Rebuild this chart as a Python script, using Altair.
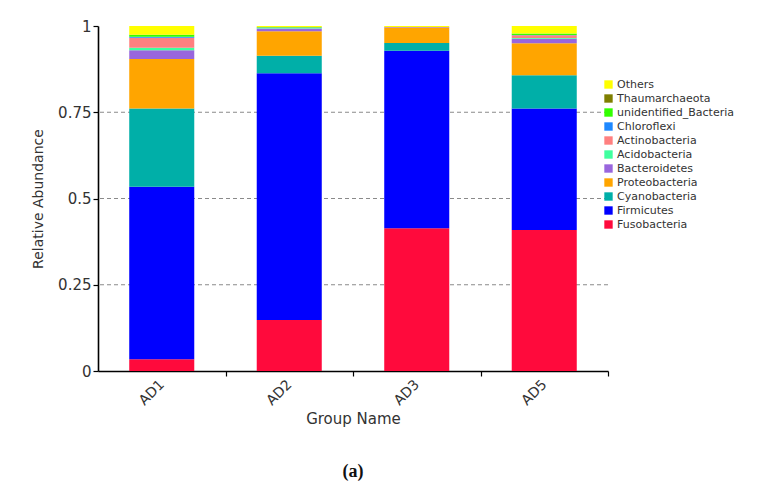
import altair as alt
import pandas as pd

groups = ["AD1", "AD2", "AD3", "AD5"]
# stacking order, bottom to top
taxa = ["Fusobacteria", "Firmicutes", "Cyanobacteria", "Proteobacteria",
        "Bacteroidetes", "Acidobacteria", "Actinobacteria", "Chloroflexi",
        "unidentified_Bacteria", "Thaumarchaeota", "Others"]
taxa_colors = ["#FF0A3C", "#0000FF", "#00AFA8", "#FFA500",
               "#9966DD", "#40FF9F", "#FF8080", "#1E88FF",
               "#33FF00", "#7F7F00", "#FFFF00"]

ad1 = [0.034, 0.500, 0.227, 0.143, 0.026, 0.007, 0.029, 0.003, 0.005, 0.001, 0.025]
ad2 = [0.148, 0.715, 0.051, 0.071, 0.008, 0.001, 0.001, 0.001, 0.001, 0.000, 0.003]
ad3 = [0.414, 0.514, 0.023, 0.045, 0.001, 0.000, 0.000, 0.000, 0.000, 0.000, 0.003]
ad5 = [0.409, 0.352, 0.096, 0.093, 0.013, 0.002, 0.008, 0.001, 0.004, 0.000, 0.022]

y_ticks = [0, 0.25, 0.5, 0.75, 1]
grid_values = [0.25, 0.5, 0.75]

rows = []
for g, vals in zip(groups, [ad1, ad2, ad3, ad5]):
    for i, (t, v) in enumerate(zip(taxa, vals)):
        rows.append({"group": g, "taxon": t, "value": v, "rank": i})
df = pd.DataFrame(rows)

legend_order = taxa[::-1]
legend_colors = taxa_colors[::-1]

FONT = "DejaVu Sans"
HALF_STEP = 510 / 4 / 2

y_axis = alt.Axis(title="Relative Abundance", values=y_ticks, format=".2~f",
                  grid=False, labelFontSize=15, titleFontSize=14,
                  titlePadding=12, labelPadding=2)
y_scale = alt.Scale(domain=[0, 1], nice=False)

grid = alt.Chart(pd.DataFrame({"y": grid_values})).mark_rule(
    strokeDash=[4, 3], color="#8a8a8a", strokeWidth=1
).encode(
    y=alt.Y("y:Q", scale=y_scale, axis=y_axis)
)

bars = alt.Chart(df).mark_bar().encode(
    x=alt.X("group:N", sort=groups,
            scale=alt.Scale(paddingInner=0.49, paddingOuter=0.245),
            axis=alt.Axis(title="Group Name", labelAngle=-45, labelAlign="right",
                          labelBaseline="middle", tickOffset=HALF_STEP,
                          labelOffset=-HALF_STEP,
                          labelFontSize=14, titleFontSize=15, labelPadding=6,
                          titlePadding=4)),
    y=alt.Y("value:Q", stack="zero", scale=y_scale, axis=y_axis),
    color=alt.Color("taxon:N",
                    scale=alt.Scale(domain=legend_order, range=legend_colors),
                    legend=alt.Legend(title=None, orient="none", legendX=505, legendY=53,
                                      symbolType="square", symbolSize=70,
                                      symbolStrokeWidth=0, labelFontSize=11,
                                      labelFont=FONT, labelColor="#333333",
                                      rowPadding=2, labelOffset=3)),
    order=alt.Order("rank:Q", sort="ascending"),
)

chart = alt.layer(grid, bars).properties(
    width=510, height=345,
    autosize=alt.AutoSizeParams(type="none"),
    padding={"left": 90, "top": 18, "right": 150, "bottom": 130},
    title=alt.TitleParams("(a)", orient="bottom", font="Liberation Serif",
                          fontSize=18, fontWeight="bold", color="#111111", offset=36),
).configure_view(stroke=None).configure_axis(
    labelFont=FONT, titleFont=FONT, labelColor="#333333", titleColor="#333333",
    titleFontWeight="normal", domainColor="#000000", domainWidth=1.6,
    tickColor="#000000", tickSize=5, tickWidth=1.2
)

chart.save("out.html", embed_options={"renderer": "svg", "actions": False})
